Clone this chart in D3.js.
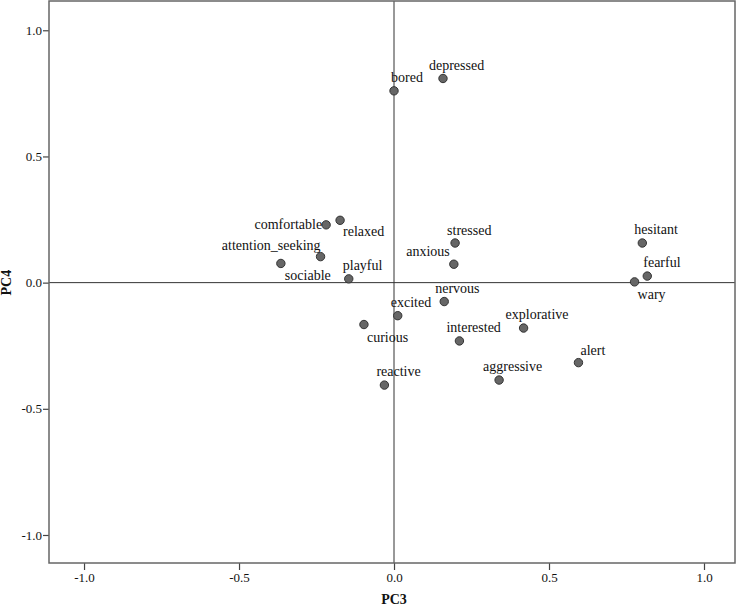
<!DOCTYPE html>
<html>
<head>
<meta charset="utf-8">
<script src="https://cdn.jsdelivr.net/npm/d3@7"></script>
<style>
  body { margin: 0; background: #fff; }
  svg text { font-family: "Liberation Serif", "Tinos", "Times New Roman", Times, serif !important; fill: #111; }
</style>
</head>
<body>
<div id="chart"></div>
<script>
// the loadings
var names = ["bored", "depressed", "comfortable", "relaxed", "attention_seeking", "sociable",
    "playful", "stressed", "anxious", "nervous", "excited", "curious", "interested",
    "explorative", "alert", "aggressive", "reactive", "hesitant", "fearful", "wary"];
var pc3 = [0.000, 0.158, -0.219, -0.174, -0.237, -0.365,
    -0.146, 0.197, 0.193, 0.162, 0.012, -0.097, 0.211,
    0.418, 0.595, 0.339, -0.031, 0.801, 0.817, 0.776];
var pc4 = [0.760, 0.809, 0.229, 0.247, 0.103, 0.076,
    0.015, 0.157, 0.073, -0.075, -0.131, -0.166, -0.231,
    -0.180, -0.317, -0.386, -0.406, 0.157, 0.026, 0.003];
var tickVals = [-1.0, -0.5, 0.0, 0.5, 1.0];

// where each label sits relative to its point [dx, dy, anchor]
var labelPlace = {
    bored: [-3, -9, "start"],
    depressed: [-14, -8, "start"],
    comfortable: [-4, 4, "end"],
    relaxed: [3, 16, "start"],
    attention_seeking: [0, -7, "end"],
    sociable: [4, 17, "start"],
    playful: [-6, -9, "start"],
    stressed: [-8, -8, "start"],
    anxious: [-4, -8, "end"],
    nervous: [-9, -9, "start"],
    excited: [-7, -9, "start"],
    curious: [3, 17, "start"],
    interested: [-13, -9, "start"],
    explorative: [-18, -9, "start"],
    alert: [2, -8, "start"],
    aggressive: [-16, -9, "start"],
    reactive: [-8, -9, "start"],
    hesitant: [-8, -9, "start"],
    fearful: [-4, -9, "start"],
    wary: [3, 17, "start"]
};

var svgWidth = 740;
var svgHeight = 606;
var serif = "'Liberation Serif', Tinos, 'Times New Roman', serif";

var svg = d3.select("#chart")
    .append("svg")
    .attr("width", svgWidth)
    .attr("height", svgHeight)
    .style("font-family", serif);

// plot frame edges in px (not called top/left, window.top is taken)
var frameL = 49, frameR = 735, frameT = 1, frameB = 563;

var x = d3.scaleLinear().domain([-1.113, 1.1]).range([frameL, frameR]);
var y = d3.scaleLinear().domain([-1.111, 1.116]).range([frameB, frameT]);

var fmt = function(d) { return d.toFixed(1); };

// x axis ticks under the frame
var xAxis = svg.append("g")
    .attr("transform", `translate(0, ${frameB})`)
    .call(d3.axisBottom(x).tickValues(tickVals).tickFormat(fmt).tickSize(7).tickPadding(3));
// y axis ticks left of frame
var yAxis = svg.append("g")
    .attr("transform", `translate(${frameL}, 0)`)
    .call(d3.axisLeft(y).tickValues(tickVals).tickFormat(fmt).tickSize(6).tickPadding(1));

[xAxis, yAxis].forEach(function(a) {
    a.attr("font-family", serif).attr("font-size", 13);
    a.select(".domain").remove();
    a.selectAll(".tick line").attr("stroke", "#444").attr("stroke-width", 1.2);
    a.selectAll(".tick text").attr("fill", "#111");
});

// zero reference lines
svg.append("line")
    .attr("x1", x(0)).attr("x2", x(0))
    .attr("y1", frameT).attr("y2", frameB)
    .attr("stroke", "#333").attr("stroke-width", 1);
svg.append("line")
    .attr("x1", frameL).attr("x2", frameR)
    .attr("y1", y(0)).attr("y2", y(0))
    .attr("stroke", "#333").attr("stroke-width", 1);

// frame
svg.append("rect")
    .attr("x", frameL).attr("y", frameT)
    .attr("width", frameR - frameL).attr("height", frameB - frameT)
    .attr("fill", "none")
    .attr("stroke", "#666")
    .attr("stroke-width", 1.5);

var data = names.map(function(n, i) { return {name: n, x: pc3[i], y: pc4[i]}; });

// points
svg.selectAll("circle.pt")
    .data(data)
    .enter()
    .append("circle")
    .attr("class", "pt")
    .attr("cx", d => x(d.x))
    .attr("cy", d => y(d.y))
    .attr("r", 4.2)
    .attr("fill", "#666")
    .attr("stroke", "#333")
    .attr("stroke-width", 1);

// point labels
svg.selectAll("text.lbl")
    .data(data)
    .enter()
    .append("text")
    .attr("class", "lbl")
    .attr("x", d => x(d.x) + labelPlace[d.name][0])
    .attr("y", d => y(d.y) + labelPlace[d.name][1])
    .attr("text-anchor", d => labelPlace[d.name][2])
    .style("font-size", "14px")
    .text(d => d.name);

// axis titles
svg.append("text")
    .attr("x", x(0))
    .attr("y", 604)
    .attr("text-anchor", "middle")
    .style("font-size", "14px")
    .style("font-weight", "bold")
    .text("PC3");
svg.append("text")
    .attr("transform", `translate(11, ${y(0)}) rotate(-90)`)
    .attr("text-anchor", "middle")
    .style("font-size", "14px")
    .style("font-weight", "bold")
    .text("PC4");
</script>
</body>
</html>
